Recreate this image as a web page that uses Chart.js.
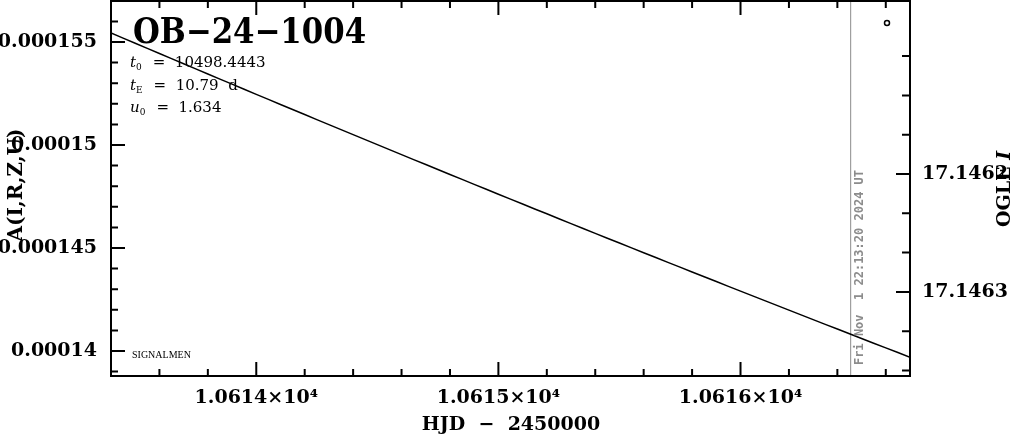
<!DOCTYPE html>
<html>
<head>
<meta charset="utf-8">
<script src="https://cdn.jsdelivr.net/npm/chart.js@4.4.1/dist/chart.umd.min.js"></script>
<style>
  html, body { margin: 0; padding: 0; background: #fff; }
  #wrap { width: 1014px; height: 434px; }
</style>
</head>
<body>
<div id="wrap"><canvas id="lc" width="1014" height="434"></canvas></div>
<script>
// ── Data ────────────────────────────────────────────────────
const hjd = [
  10613.40, 10613.45, 10613.50, 10613.55, 10613.60, 10613.65, 10613.70, 10613.75, 10613.80, 10613.85,
  10613.90, 10613.95, 10614.00, 10614.05, 10614.10, 10614.15, 10614.20, 10614.25, 10614.30, 10614.35,
  10614.40, 10614.45, 10614.50, 10614.55, 10614.60, 10614.65, 10614.70, 10614.75, 10614.80, 10614.85,
  10614.90, 10614.95, 10615.00, 10615.05, 10615.10, 10615.15, 10615.20, 10615.25, 10615.30, 10615.35,
  10615.40, 10615.45, 10615.50, 10615.55, 10615.60, 10615.65, 10615.70, 10615.75, 10615.80, 10615.85,
  10615.90, 10615.95, 10616.00, 10616.05, 10616.10, 10616.15, 10616.20, 10616.25, 10616.30, 10616.35,
  10616.40, 10616.45, 10616.50, 10616.55, 10616.60, 10616.65, 10616.70
];
const amp = [
  155.437e-6, 155.187e-6, 154.937e-6, 154.688e-6, 154.439e-6, 154.190e-6, 153.942e-6, 153.694e-6, 153.446e-6, 153.199e-6,
  152.952e-6, 152.706e-6, 152.459e-6, 152.214e-6, 151.968e-6, 151.723e-6, 151.478e-6, 151.234e-6, 150.990e-6, 150.746e-6,
  150.503e-6, 150.260e-6, 150.017e-6, 149.775e-6, 149.533e-6, 149.292e-6, 149.051e-6, 148.810e-6, 148.569e-6, 148.329e-6,
  148.090e-6, 147.850e-6, 147.611e-6, 147.373e-6, 147.134e-6, 146.896e-6, 146.659e-6, 146.421e-6, 146.185e-6, 145.948e-6,
  145.712e-6, 145.476e-6, 145.241e-6, 145.006e-6, 144.771e-6, 144.537e-6, 144.303e-6, 144.069e-6, 143.836e-6, 143.603e-6,
  143.370e-6, 143.138e-6, 142.906e-6, 142.675e-6, 142.443e-6, 142.213e-6, 141.982e-6, 141.752e-6, 141.522e-6, 141.293e-6,
  141.064e-6, 140.835e-6, 140.607e-6, 140.379e-6, 140.152e-6, 139.924e-6, 139.698e-6
];
const nowHJD = 10616.455;   // grey "now" marker

const xMajor = [10614, 10615, 10616];
const xTickLabels = ["1.0614×10⁴", "1.0615×10⁴", "1.0616×10⁴"];
const xMinor = [10613.6, 10613.8, 10614.2, 10614.4, 10614.6, 10614.8, 10615.2, 10615.4, 10615.6,
  10615.8, 10616.2, 10616.4, 10616.6];

const yMajor = [140e-6, 145e-6, 150e-6, 155e-6];
const yTickLabels = ["0.00014", "0.000145", "0.00015", "0.000155"];
const yMinor = [139e-6, 141e-6, 142e-6, 143e-6, 144e-6, 146e-6, 147e-6, 148e-6, 149e-6,
  151e-6, 152e-6, 153e-6, 154e-6, 156e-6];

const magMajor = [17.14622, 17.14628];
const magTickLabels = ["17.1462", "17.1463"];
const magMinor = [17.14616, 17.14618, 17.14620, 17.14624, 17.14626, 17.14630, 17.14632];

const tickFont = { family: "DejaVu Serif", size: 19, weight: "bold" };

// no label overhang padding, fixed axis boxes
const fixV = (w) => (s) => { s.width = w; s.paddingTop = 0; s.paddingBottom = 0; };
const fixH = (h) => (s) => { s.height = h; s.paddingLeft = 0; s.paddingRight = 0; };

// ── Frame, inward ticks and annotations ─────────────────────
const frame = {
  id: "frame",
  beforeDatasetsDraw(chart) {
    const { ctx, chartArea: a, scales: { x } } = chart;
    const px = x.getPixelForValue(nowHJD);
    ctx.save();
    ctx.strokeStyle = "#8c8c8c";
    ctx.lineWidth = 1;
    ctx.beginPath();
    ctx.moveTo(px, a.top);
    ctx.lineTo(px, a.bottom);
    ctx.stroke();
    ctx.restore();
  },
  afterDraw(chart) {
    const { ctx, chartArea: a, scales: { x, y, y2 } } = chart;
    ctx.save();
    ctx.strokeStyle = "#000";
    ctx.lineWidth = 2;
    ctx.strokeRect(a.left, a.top, a.right - a.left, a.bottom - a.top);

    ctx.beginPath();
    const xt = (vals, len) => vals.forEach((v) => {
      const p = x.getPixelForValue(v);
      ctx.moveTo(p, a.bottom); ctx.lineTo(p, a.bottom - len);
      ctx.moveTo(p, a.top); ctx.lineTo(p, a.top + len);
    });
    const lt = (vals, len) => vals.forEach((v) => {
      const p = y.getPixelForValue(v);
      ctx.moveTo(a.left, p); ctx.lineTo(a.left + len, p);
    });
    const rt = (vals, len) => vals.forEach((v) => {
      const p = y2.getPixelForValue(v);
      ctx.moveTo(a.right, p); ctx.lineTo(a.right - len, p);
    });
    xt(xMajor, 14); xt(xMinor, 7);
    lt(yMajor, 14); lt(yMinor, 7);
    rt(magMajor, 14); rt(magMinor, 8);
    ctx.stroke();

    // legend dot
    ctx.lineWidth = 1.5;
    ctx.beginPath();
    ctx.arc(887, 23, 2.5, 0, Math.PI * 2);
    ctx.stroke();

    ctx.fillStyle = "#000";
    ctx.textBaseline = "alphabetic";

    // event name
    ctx.save();
    ctx.translate(133, 43);
    ctx.scale(0.88, 1);
    ctx.font = 'bold 35px "DejaVu Serif"';
    ctx.fillText("OB−24−1004", 0, 0);
    ctx.restore();

    // model parameters
    const param = (sym, sub, val, yy) => {
      let cx = 130;
      ctx.font = 'italic 15px "DejaVu Serif"';
      ctx.fillText(sym, cx, yy);
      cx += ctx.measureText(sym).width;
      ctx.font = '9px "DejaVu Serif"';
      ctx.fillText(sub, cx, yy + 3);
      cx += ctx.measureText(sub).width + 11;
      ctx.font = '15px "DejaVu Serif"';
      ctx.fillText(val, cx, yy);
    };
    param("t", "0", "=  10498.4443", 67);
    param("t", "E", "=  10.79  d", 90);
    param("u", "0", "=  1.634", 112);

    ctx.font = '10px "Liberation Serif"';
    ctx.fillText("SIGNALMEN", 132, 358);

    // axis titles
    ctx.font = 'bold 19px "DejaVu Serif"';
    ctx.textAlign = "center";
    ctx.fillText("HJD  −  2450000", 511, 430);

    ctx.save();
    ctx.translate(22, 185);
    ctx.rotate(-Math.PI / 2);
    ctx.font = 'bold 20px "DejaVu Serif"';
    ctx.fillText("A(I,R,Z,U)", 0, 0);
    ctx.restore();

    ctx.save();
    ctx.translate(1010, 189);
    ctx.rotate(-Math.PI / 2);
    ctx.textAlign = "left";
    ctx.font = 'bold 19px "DejaVu Serif"';
    const w1 = ctx.measureText("OGLE ").width;
    ctx.font = 'bold italic 19px "DejaVu Serif"';
    const w2 = ctx.measureText("I").width;
    ctx.font = 'bold 19px "DejaVu Serif"';
    ctx.fillText("OGLE ", -(w1 + w2) / 2, 0);
    ctx.font = 'bold italic 19px "DejaVu Serif"';
    ctx.fillText("I", -(w1 + w2) / 2 + w1, 0);
    ctx.restore();

    // timestamp along the "now" line
    ctx.save();
    ctx.translate(x.getPixelForValue(nowHJD) + 12, 365);
    ctx.rotate(-Math.PI / 2);
    ctx.textAlign = "left";
    ctx.fillStyle = "#8c8c8c";
    ctx.font = 'bold 12px "DejaVu Sans Mono"';
    ctx.fillText("Fri Nov  1 22:13:20 2024 UT", 0, 0);
    ctx.restore();

    ctx.restore();
  }
};

// ── Chart ───────────────────────────────────────────────────
new Chart(document.getElementById("lc").getContext("2d"), {
  type: "line",
  data: {
    datasets: [{
      data: hjd.map((t, i) => ({ x: t, y: amp[i] })),
      borderColor: "#000",
      borderWidth: 1.5,
      pointRadius: 0,
      tension: 0,
      yAxisID: "y"
    }]
  },
  options: {
    responsive: false,
    animation: false,
    devicePixelRatio: 1,
    layout: { padding: { top: 1, left: 0, right: 0, bottom: 0 } },
    plugins: { legend: { display: false }, tooltip: { enabled: false } },
    scales: {
      x: {
        type: "linear",
        position: "bottom",
        min: 10613.40,
        max: 10616.70,
        grid: { display: false, drawTicks: false },
        border: { display: false },
        afterBuildTicks: (s) => { s.ticks = xMajor.map((v) => ({ value: v })); },
        afterFit: fixH(58),
        ticks: {
          autoSkip: false, maxRotation: 0, padding: 11, color: "#000", font: tickFont,
          callback: (v, i) => xTickLabels[i]
        }
      },
      y: {
        type: "linear",
        position: "left",
        min: 138.786e-6,
        max: 156.99e-6,
        grid: { display: false, drawTicks: false },
        border: { display: false },
        afterBuildTicks: (s) => { s.ticks = yMajor.map((v) => ({ value: v })); },
        afterFit: fixV(111),
        ticks: {
          padding: 14, color: "#000", font: tickFont,
          callback: (v, i) => yTickLabels[i]
        }
      },
      y2: {
        type: "linear",
        position: "right",
        reverse: true,
        min: 17.14613196,
        max: 17.1463228,
        grid: { display: false, drawTicks: false },
        border: { display: false },
        afterBuildTicks: (s) => { s.ticks = magMajor.map((v) => ({ value: v })); },
        afterFit: fixV(104),
        ticks: {
          padding: 12, color: "#000", font: tickFont,
          callback: (v, i) => magTickLabels[i]
        }
      }
    }
  },
  plugins: [frame]
});
</script>
</body>
</html>
